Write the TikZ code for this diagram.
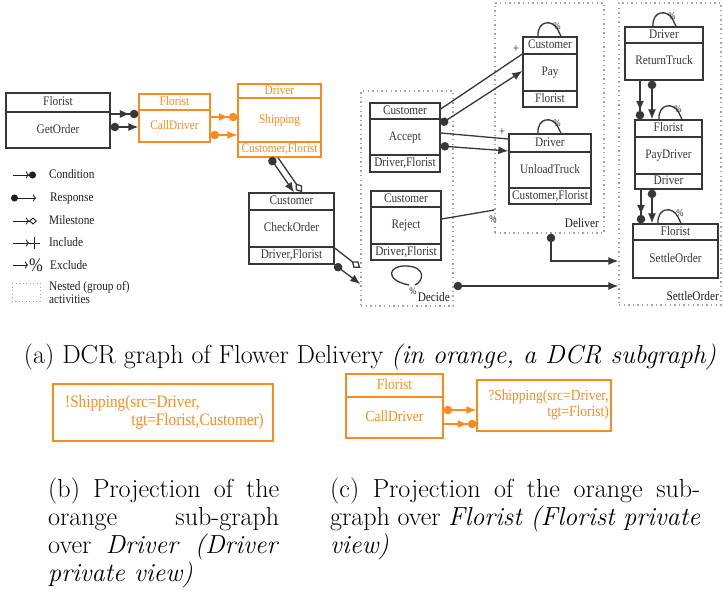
\documentclass[tikz,border=0pt]{standalone}
\usepackage{fontspec}
\newfontfamily\dfont[FakeStretch=0.87]{Liberation Serif}
\usetikzlibrary{arrows.meta}
\definecolor{orng}{RGB}{250,140,30}
\definecolor{dgray}{RGB}{55,55,55}
\definecolor{dotgray}{RGB}{165,165,165}
\tikzset{
  actbox/.style={draw=#1, line width=1.3pt, inner sep=0pt, fill=white},
  actbox/.default=dgray,
  grp/.style={draw=dotgray, line width=1.4pt, dash pattern=on 1.4pt off 3.2pt, inner sep=0pt},
  dtxt/.style={font=\dfont\fontsize{13}{15}\selectfont, inner sep=0pt, text=#1, text height=8.6pt, text depth=2.6pt},
  dtxt/.default=black!88,
  ctxt/.style={font=\dfont\fontsize{15.5}{17}\selectfont, inner sep=0pt, text=orng, text height=10pt, text depth=3pt},
  btxt/.style={font=\dfont\fontsize{17.5}{19}\selectfont, inner sep=0pt, text=orng, text height=11.5pt, text depth=3.5pt},
  pct/.style={font=\dfont\fontsize{10}{11}\selectfont, inner sep=0pt, text=black!88},
  cnd/.style={draw=#1, line width=1.3pt, -{Latex[length=10pt,width=8pt] Circle[length=8.5pt]}},
  cnd/.default=dgray,
  rsp/.style={draw=#1, line width=1.3pt, {Circle[length=8.5pt]}-{Latex[length=10pt,width=8pt]}},
  rsp/.default=dgray,
  mls/.style={draw=dgray, line width=1.3pt, -{Diamond[fill=white,length=11pt,width=8pt]}},
  lnk/.style={draw=dgray, line width=1.3pt},
  lgd/.style={draw=black!88, line width=0.9pt},
  captxt/.style={font=\fontsize{26.1}{29}\selectfont, inner sep=0pt, text height=18pt, text depth=6pt},
}
% #1 colour, #2 name, #3 x1, #4 y1, #5 x2, #6 y2, #7 header line y, #8 footer line y, #9 {header}{body}{footer}
\newcommand\dcrbox[9]{%
  \pgfmathsetmacro\dcrW{#5-#3}%
  \pgfmathsetmacro\dcrH{#6-#4}%
  \pgfmathsetmacro\dcrX{(#3+#5)/2}%
  \pgfmathsetmacro\dcrY{(#4+#6)/2}%
  \pgfmathsetmacro\dcrHY{(#4+#7)/2}%
  \pgfmathsetmacro\dcrBY{(#7+#8)/2}%
  \pgfmathsetmacro\dcrFY{(#8+#6)/2}%
  \node[actbox=#1, minimum width=\dcrW pt, minimum height=\dcrH pt] (#2) at (\dcrX,\dcrY) {};
  \draw[draw=#1, line width=1.3pt] (#2.west |- 0,#7) -- (#2.east |- 0,#7);
  \ifdim #8pt<#6pt
    \draw[draw=#1, line width=1.3pt] (#2.west |- 0,#8) -- (#2.east |- 0,#8);
  \fi
  \dcrtexts{#1}{#2}#9}
\newcommand\dcrtexts[5]{%
  \node[dtxt=#1] (#2-h) at (\dcrX,\dcrHY) {#3};
  \node[dtxt=#1] (#2-b) at (\dcrX,\dcrBY) {#4};
  \node[dtxt=#1] (#2-f) at (\dcrX,\dcrFY) {#5};}

\begin{document}
\begin{tikzpicture}[x=1pt,y=-1pt]
\fill[white] (0,0) rectangle (723,595);
\useasboundingbox (0,0) rectangle (723,595);

% ---------- groups ----------
\node[grp, minimum width=92pt, minimum height=215pt] (decide) at (407,198.5) {};
\node[grp, minimum width=109pt, minimum height=230pt] (deliver) at (549.5,118) {};
\node[grp, minimum width=102pt, minimum height=302pt] (settlegrp) at (670,154) {};
\node[dtxt, anchor=east] (decide-l) at (450,298) {Decide};
\node[dtxt, anchor=east] (deliver-l) at (599,224) {Deliver};
\node[dtxt, anchor=east] (settlegrp-l) at (719,297) {SettleOrder};

% ---------- activities ----------
\dcrbox{dgray}{getorder}{6}{93}{110}{148}{112}{148}{{Florist}{GetOrder}{}}
\dcrbox{orng}{calldriver}{139}{94}{210}{142}{110}{142}{{Florist}{CallDriver}{}}
\dcrbox{orng}{shipping}{238}{84}{321}{157}{98}{142}{{Driver}{Shipping}{Customer,Florist}}
\dcrbox{dgray}{checkorder}{249}{193}{334}{264}{210}{247}{{Customer}{CheckOrder}{Driver,Florist}}
\dcrbox{dgray}{accept}{370}{103}{440}{172}{119}{155}{{Customer}{Accept}{Driver,Florist}}
\dcrbox{dgray}{reject}{371}{191}{441}{260}{207}{244}{{Customer}{Reject}{Driver,Florist}}
\dcrbox{dgray}{pay}{523}{37}{577}{107}{54}{91}{{Customer}{Pay}{Florist}}
\dcrbox{dgray}{unload}{509}{134}{591}{204}{152}{188}{{Driver}{UnloadTruck}{Customer,Florist}}
\dcrbox{dgray}{returntruck}{625}{27}{703}{80}{43}{80}{{Driver}{ReturnTruck}{}}
\dcrbox{dgray}{paydriver}{635}{120}{702}{189}{137}{174}{{Florist}{PayDriver}{Driver}}
\dcrbox{dgray}{settleorder}{633}{224}{718}{278}{240}{278}{{Florist}{SettleOrder}{}}

% ---------- relations ----------
\draw[cnd] ([yshift=6.5pt]getorder.east) -- ([yshift=4pt]calldriver.west);
\draw[rsp] ([yshift=-6.5pt]getorder.east) -- ([yshift=-9pt]calldriver.west);
\draw[cnd=orng] ([yshift=1pt]calldriver.east) -- ([yshift=3.5pt]shipping.west);
\draw[rsp=orng] ([yshift=-17pt]calldriver.east) -- ([yshift=-14.5pt]shipping.west);
\draw[rsp] ([xshift=-9.5pt]shipping.south) -- ([xshift=2.5pt]checkorder.north);
\draw[mls] ([xshift=-1.5pt]shipping.south) -- ([xshift=10.5pt]checkorder.north);
\draw[mls] ([yshift=-19.5pt]checkorder.east) -- ([yshift=-69.5pt]decide.west);
\draw[rsp] (checkorder.south east) -- ([yshift=-85.5pt]decide.west);

\draw[lnk] ([yshift=28.5pt]accept.east) -- ([yshift=18pt]pay.west);
\draw[rsp] ([yshift=13.5pt]accept.east) -- ([yshift=1pt]pay.west);
\draw[lnk] ([yshift=4.5pt]accept.east) -- ([yshift=30pt]unload.west);
\draw[rsp] ([yshift=-8.5pt]accept.east) -- ([yshift=18pt]unload.west);
\draw[lnk] ([yshift=6.5pt]reject.east) -- ([yshift=-92pt]deliver.west);
\node[pct, font=\dfont\fontsize{12}{13}\selectfont] (inc1) at (516,49) {+};
\node[pct, font=\dfont\fontsize{12}{13}\selectfont] (inc2) at (502,132) {+};
\node[pct] (exc1) at (493,219) {\%};

\draw[rsp] ([yshift=-87.5pt]decide.east) -- ([yshift=-132pt]settlegrp.west);
\draw[rsp] ([xshift=1.5pt]deliver.south) |- ([yshift=-107pt]settlegrp.west);

\draw[cnd] ([xshift=-24pt]returntruck.south) -- ([xshift=-28.5pt]paydriver.north);
\draw[rsp] ([xshift=-12pt]returntruck.south) -- ([xshift=-16.5pt]paydriver.north);
\draw[cnd] ([xshift=-27.5pt]paydriver.south) -- ([xshift=-34.5pt]settleorder.north);
\draw[rsp] ([xshift=-16.5pt]paydriver.south) -- ([xshift=-23.5pt]settleorder.north);

% ---------- exclude self loops ----------
\draw[lnk] ([xshift=-12pt]pay.north) .. controls (537,20) and (553,19) .. (558,30) -- ([xshift=11pt]pay.north);
\node[pct] (pay-x) at (557,26) {\%};
\draw[lnk] ([xshift=-12pt]unload.north) .. controls (537,117) and (553,116) .. (558,127) -- ([xshift=11pt]unload.north);
\node[pct] (unload-x) at (557,123) {\%};
\draw[lnk] ([xshift=-11pt]returntruck.north) .. controls (652,10) and (668,9) .. (673,20) -- ([xshift=12pt]returntruck.north);
\node[pct] (returntruck-x) at (672,16) {\%};
\draw[lnk] ([xshift=-9.5pt]paydriver.north) .. controls (658,103) and (674,102) .. (679,113) -- ([xshift=13.5pt]paydriver.north);
\node[pct] (paydriver-x) at (678,109) {\%};
\draw[lnk] ([xshift=-17.5pt]settleorder.north) .. controls (657,207) and (673,206) .. (678,217) -- ([xshift=5.5pt]settleorder.north);
\node[pct] (settleorder-x) at (680,213) {\%};
\draw[lnk] (409,285) .. controls (384,280) and (388,265) .. (407,266) .. controls (426,267) and (424,281) .. (415,285);
\node[pct] (decide-x) at (413,291) {\%};

% ---------- legend ----------
\coordinate (lg1a) at (13,175); \coordinate (lg1b) at (36,175);
\coordinate (lg2a) at (11,198); \coordinate (lg2b) at (36,198);
\coordinate (lg3a) at (13,221); \coordinate (lg3b) at (37,221);
\coordinate (lg4a) at (13,243); \coordinate (lg4b) at (29,243); \coordinate (lg4c) at (40,243);
\coordinate (lg4d) at (34,237); \coordinate (lg4e) at (34,249);
\coordinate (lg5a) at (13,265); \coordinate (lg5b) at (28,265);
\draw[lgd, -{To[length=3pt,width=7pt] Circle[length=7pt]}] (lg1a) -- (lg1b);
\draw[lgd, {Circle[length=7pt]}-{To[length=3pt,width=7pt]}] (lg2a) -- (lg2b);
\draw[lgd, -{To[length=3pt,width=7pt] Diamond[fill=white,length=8pt,width=7pt]}] (lg3a) -- (lg3b);
\draw[lgd, -{To[length=3pt,width=7pt]}] (lg4a) -- (lg4b);
\draw[lgd] (lg4b) -- (lg4c);
\draw[lgd] (lg4d) -- (lg4e);
\draw[lgd, -{To[length=3pt,width=7pt]}] (lg5a) -- (lg5b);
\node[font=\dfont\fontsize{19}{20}\selectfont, inner sep=0pt, text=black!88] (lg5p) at (36,265) {\%};
\draw[dotgray, line width=1pt, dash pattern=on 1pt off 2.5pt] (12,283) rectangle (40,301);
\node[dtxt, anchor=west] (lt1) at (49,175) {Condition};
\node[dtxt, anchor=west] (lt2) at (50,198) {Response};
\node[dtxt, anchor=west] (lt3) at (49,221) {Milestone};
\node[dtxt, anchor=west] (lt4) at (49,243) {Include};
\node[dtxt, anchor=west] (lt5) at (50,266) {Exclude};
\node[dtxt, anchor=west] (lt6) at (49,287) {Nested (group of)};
\node[dtxt, anchor=west] (lt7) at (49,300) {activities};

% ---------- caption (a) ----------
\node[captxt] (capa) at (370,357) {(a) DCR graph of Flower Delivery \textit{(in orange, a DCR subgraph)}};

% ---------- panel (b) ----------
\node[actbox=orng, minimum width=220pt, minimum height=57pt] (projb) at (163,412.5) {};
\node[btxt, anchor=west] (projb-1) at (65,403) {!Shipping(src=Driver,};
\node[btxt, anchor=east] (projb-2) at (264,421) {tgt=Florist,Customer)};

% ---------- panel (c) ----------
\node[actbox=orng, minimum width=97pt, minimum height=64pt] (callc) at (394.5,406) {};
\draw[draw=orng, line width=1.3pt] (callc.west |- 0,397) -- (callc.east |- 0,397);
\node[ctxt] (callc-h) at (394.5,386) {Florist};
\node[ctxt] (callc-b) at (394.5,418) {CallDriver};
\node[actbox=orng, minimum width=134pt, minimum height=51pt] (shipc) at (544,405.5) {};
\node[ctxt, anchor=east] (shipc-1) at (609,397) {?Shipping(src=Driver,};
\node[ctxt, anchor=east] (shipc-2) at (609,413) {tgt=Florist)};
\draw[rsp=orng] ([yshift=-4pt]callc.east) -- ([yshift=-4.5pt]shipc.west);
\draw[cnd=orng] ([yshift=-18pt]callc.east) -- ([yshift=-18.5pt]shipc.west);

% ---------- captions (b), (c) ----------
\node[captxt, anchor=west] (capb1) at (48,491) {\makebox[231pt][s]{(b) Projection of the}};
\node[captxt, anchor=west] (capb2) at (48,519) {\makebox[231pt][s]{orange sub-graph}};
\node[captxt, anchor=west] (capb3) at (48,547) {\makebox[231pt][s]{over \textit{Driver (Driver}}};
\node[captxt, anchor=west] (capb4) at (48,575) {\textit{private view)}};
\node[captxt, anchor=west] (capc1) at (330,491) {\makebox[370pt][s]{(c) Projection of the orange sub-}};
\node[captxt, anchor=west] (capc2) at (330,519) {\makebox[370pt][s]{graph over \textit{Florist (Florist private}}};
\node[captxt, anchor=west] (capc3) at (330,547) {\textit{view)}};
\end{tikzpicture}
\end{document}
